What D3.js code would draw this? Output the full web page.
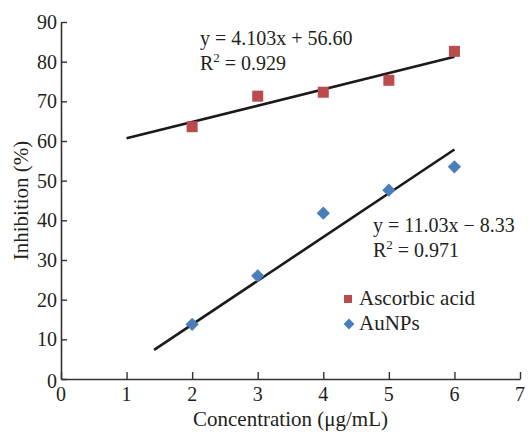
<!DOCTYPE html>
<html>
<head>
<meta charset="utf-8">
<script src="https://cdn.jsdelivr.net/npm/d3@7/dist/d3.min.js"></script>
<style>
  html, body { margin: 0; padding: 0; background: #fff; }
  svg text { font-family: "Liberation Serif", "Times New Roman", serif; fill: #231f20; }
</style>
</head>
<body>
<svg id="chart" width="530" height="432"></svg>
<script>
// Concentration levels (µg/mL)
const concentrations = [2, 3, 4, 5, 6];
// Inhibition (%) for each sample
const ascorbicValues = [63.6, 71.3, 72.3, 75.3, 82.6];
const aunpValues = [13.8, 26.0, 41.8, 47.6, 53.5];

// Linear fits: slope, intercept and the x span each trendline covers
const ascorbicFit = { slope: 4.103, intercept: 56.60, from: 1, to: 6 };
const aunpFit = { slope: 11.03, intercept: -8.33, from: 1.42, to: 6 };

const xTicks = [0, 1, 2, 3, 4, 5, 6, 7];
const yTicks = [0, 10, 20, 30, 40, 50, 60, 70, 80, 90];

const svg = d3.select("#chart");
const x = d3.scaleLinear().domain([0, 7]).range([61, 520]);
const y = d3.scaleLinear().domain([0, 90]).range([379, 22]);

const ink = "#333";

// X axis with inward ticks
const xAxis = svg.append("g").attr("transform", `translate(0,${y(0)})`)
  .call(d3.axisBottom(x).tickValues(xTicks).tickSizeInner(-7).tickSizeOuter(0).tickFormat(""));
xAxis.select(".domain").attr("stroke", ink).attr("stroke-width", 1.6);
xAxis.selectAll(".tick line").attr("stroke", ink).attr("stroke-width", 1.4);

// Y axis with inward ticks
const yAxis = svg.append("g").attr("transform", `translate(${x(0)},0)`)
  .call(d3.axisLeft(y).tickValues(yTicks).tickSizeInner(-6).tickSizeOuter(0).tickFormat(""));
yAxis.select(".domain").attr("stroke", ink).attr("stroke-width", 1.6);
yAxis.selectAll(".tick line").attr("stroke", ink).attr("stroke-width", 1.4);

// Tick labels
svg.append("g").selectAll("text").data(xTicks).join("text")
  .attr("x", d => x(d)).attr("y", 401)
  .attr("text-anchor", "middle").attr("font-size", 20)
  .text(d => d);

svg.append("g").selectAll("text").data(yTicks).join("text")
  .attr("x", 57).attr("y", d => y(d) + 7 + (d === 0 ? 2 : 0))
  .attr("text-anchor", "end").attr("font-size", 20)
  .text(d => d);

// Axis titles
svg.append("text")
  .attr("x", (x(0) + x(7)) / 2).attr("y", 426)
  .attr("text-anchor", "middle").attr("font-size", 21)
  .text("Concentration (μg/mL)");

svg.append("text")
  .attr("transform", `translate(28,${(y(0) + y(90)) / 2}) rotate(-90)`)
  .attr("text-anchor", "middle").attr("font-size", 21)
  .text("Inhibition (%)");

// Trendlines
const line = d3.line().x(d => x(d[0])).y(d => y(d[1]));
function trend(fit) {
  return [fit.from, fit.to].map(v => [v, fit.slope * v + fit.intercept]);
}
svg.append("path").datum(trend(ascorbicFit)).attr("d", line)
  .attr("fill", "none").attr("stroke", "#1a1a1a").attr("stroke-width", 2.6);
svg.append("path").datum(trend(aunpFit)).attr("d", line)
  .attr("fill", "none").attr("stroke", "#1a1a1a").attr("stroke-width", 2.6);

const red = "#BA4C4E", blue = "#4A7EBB";

// Ascorbic acid markers (squares)
const sq = 11;
svg.append("g").selectAll("rect").data(concentrations).join("rect")
  .attr("x", (d) => x(d) - sq / 2)
  .attr("y", (d, i) => y(ascorbicValues[i]) - sq / 2)
  .attr("width", sq).attr("height", sq)
  .attr("fill", red);

// AuNPs markers (diamonds)
const diamond = d3.symbol().type(d3.symbolDiamond2).size(112);
svg.append("g").selectAll("path").data(concentrations).join("path")
  .attr("transform", (d, i) => `translate(${x(d)},${y(aunpValues[i])})`)
  .attr("d", diamond)
  .attr("fill", blue);

// Regression equations
function equation(px, py, eq, r2) {
  svg.append("text").attr("x", px).attr("y", py).attr("font-size", 20).text(eq);
  const t = svg.append("text").attr("x", px).attr("y", py + 25).attr("font-size", 20);
  t.append("tspan").text("R");
  t.append("tspan").attr("font-size", 13).attr("dy", -8).text("2");
  t.append("tspan").attr("dy", 8).text(" = " + r2);
}
equation(200, 45, "y = 4.103x + 56.60", "0.929");
equation(373, 232, "y = 11.03x − 8.33", "0.971");

// Legend
const legend = svg.append("g");
legend.append("rect").attr("x", 344).attr("y", 295).attr("width", 8).attr("height", 8).attr("fill", red);
legend.append("text").attr("x", 359).attr("y", 305).attr("font-size", 21).text("Ascorbic acid");
legend.append("path").attr("transform", "translate(349,324)")
  .attr("d", d3.symbol().type(d3.symbolDiamond2).size(75)).attr("fill", blue);
legend.append("text").attr("x", 359).attr("y", 330).attr("font-size", 21).text("AuNPs");
</script>
</body>
</html>
